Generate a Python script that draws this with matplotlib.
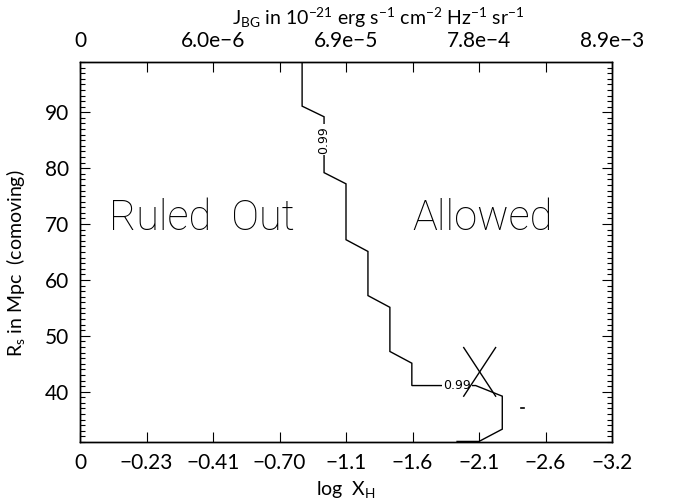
import matplotlib
matplotlib.use("Agg")
import matplotlib.pyplot as plt
from matplotlib.ticker import MultipleLocator

plt.rcParams['font.family'] = ['Lato', 'DejaVu Sans']
plt.rcParams['mathtext.default'] = 'regular'

# ---- data ----
# x axis in units of tick index (bottom: log X_H, top: J_BG)
bottom_tick_labels = ['0', '\u22120.23', '\u22120.41', '\u22120.70', '\u22121.1',
                      '\u22121.6', '\u22122.1', '\u22122.6', '\u22123.2']
top_tick_labels = ['0', '', '6.0e\u22126', '', '6.9e\u22125', '', '7.8e\u22124', '', '8.9e\u22123']

# main 0.99 contour (x in tick-index units, y in Mpc)
contour_x = [3.34, 3.34, 3.67, 3.67, 4.00, 4.00, 4.33, 4.33, 4.66, 4.66,
             4.99, 4.99, 5.95, 6.35, 6.35, 6.00, 5.67]
contour_y = [99.0, 91.1, 89.2, 79.2, 77.2, 67.2, 65.1, 57.2, 55.1, 47.2,
             45.1, 41.1, 41.1, 39.2, 33.3, 31.1, 31.1]
label1_xy = (3.67, 85.1)
label2_xy = (5.67, 41.1)
contour_level = '0.99'

# cross marker (two strokes)
cross1_x = [5.77, 6.25]
cross1_y = [47.9, 39.2]
cross2_x = [6.25, 5.77]
cross2_y = [47.9, 39.2]

# tiny isolated contour
dash_x = [6.63, 6.68]
dash_y = [37.0, 37.0]

fig = plt.figure(figsize=(6.74, 5.04), dpi=100)
ax = fig.add_axes([80/674, 1-442/504, 532/674, 380/504])

ax.plot(contour_x, contour_y, color='black', lw=1.0, solid_joinstyle='miter', zorder=2)
ax.plot(cross1_x, cross1_y, color='black', lw=1.0, zorder=6)
ax.plot(cross2_x, cross2_y, color='black', lw=1.0, zorder=6)
ax.plot(dash_x, dash_y, color='black', lw=1.2)

ax.text(*label1_xy, contour_level, rotation=90, ha='center', va='center',
        fontsize=9, family=['DejaVu Sans'], zorder=4,
        bbox=dict(facecolor='white', edgecolor='none', pad=1.0))
ax.text(*label2_xy, contour_level, ha='center', va='center',
        fontsize=9, family=['DejaVu Sans'], zorder=4,
        bbox=dict(facecolor='white', edgecolor='none', pad=0.5))

ax.text(1.84, 71.0, 'Ruled  Out', ha='center', va='center', fontsize=30,
        family=['Roboto'], fontweight='light')
ax.text(6.06, 71.0, 'Allowed', ha='center', va='center', fontsize=30,
        family=['Roboto'], fontweight='light')

ax.set_xlim(0, 8)
ax.set_ylim(31, 99)

ax.set_xticks(range(9))
ax.set_xticklabels(bottom_tick_labels)
ax.set_yticks([40, 50, 60, 70, 80, 90])
ax.yaxis.set_minor_locator(MultipleLocator(1))
ax.tick_params(axis='both', which='major', direction='in', length=7, width=0.8,
               labelsize=15, pad=8, right=True, colors='black')
ax.tick_params(axis='y', which='minor', direction='in', length=3.5, width=0.8, right=True)
ax.tick_params(axis='x', which='major', top=False)

ax.set_xlabel('log  X$_{H}$', fontsize=14, labelpad=4)
ax.set_ylabel('R$_{s}$ in Mpc  (comoving)', fontsize=14, labelpad=8)
ax.yaxis.set_label_coords(-0.1, 0.47)

axt = ax.twiny()
axt.set_xlim(0, 8)
axt.set_xticks(range(9))
axt.set_xticklabels(top_tick_labels)
axt.tick_params(axis='x', direction='in', length=7, width=0.8, labelsize=15, pad=8)
axt.set_xlabel('J$_{BG}$ in 10$^{-21}$ erg s$^{-1}$ cm$^{-2}$ Hz$^{-1}$ sr$^{-1}$',
               fontsize=14, labelpad=6)
axt.xaxis.set_label_coords(0.56, 1.098)

for a in (ax, axt):
    for s in a.spines.values():
        s.set_linewidth(1.0)

fig.savefig('out.png', dpi=100)
